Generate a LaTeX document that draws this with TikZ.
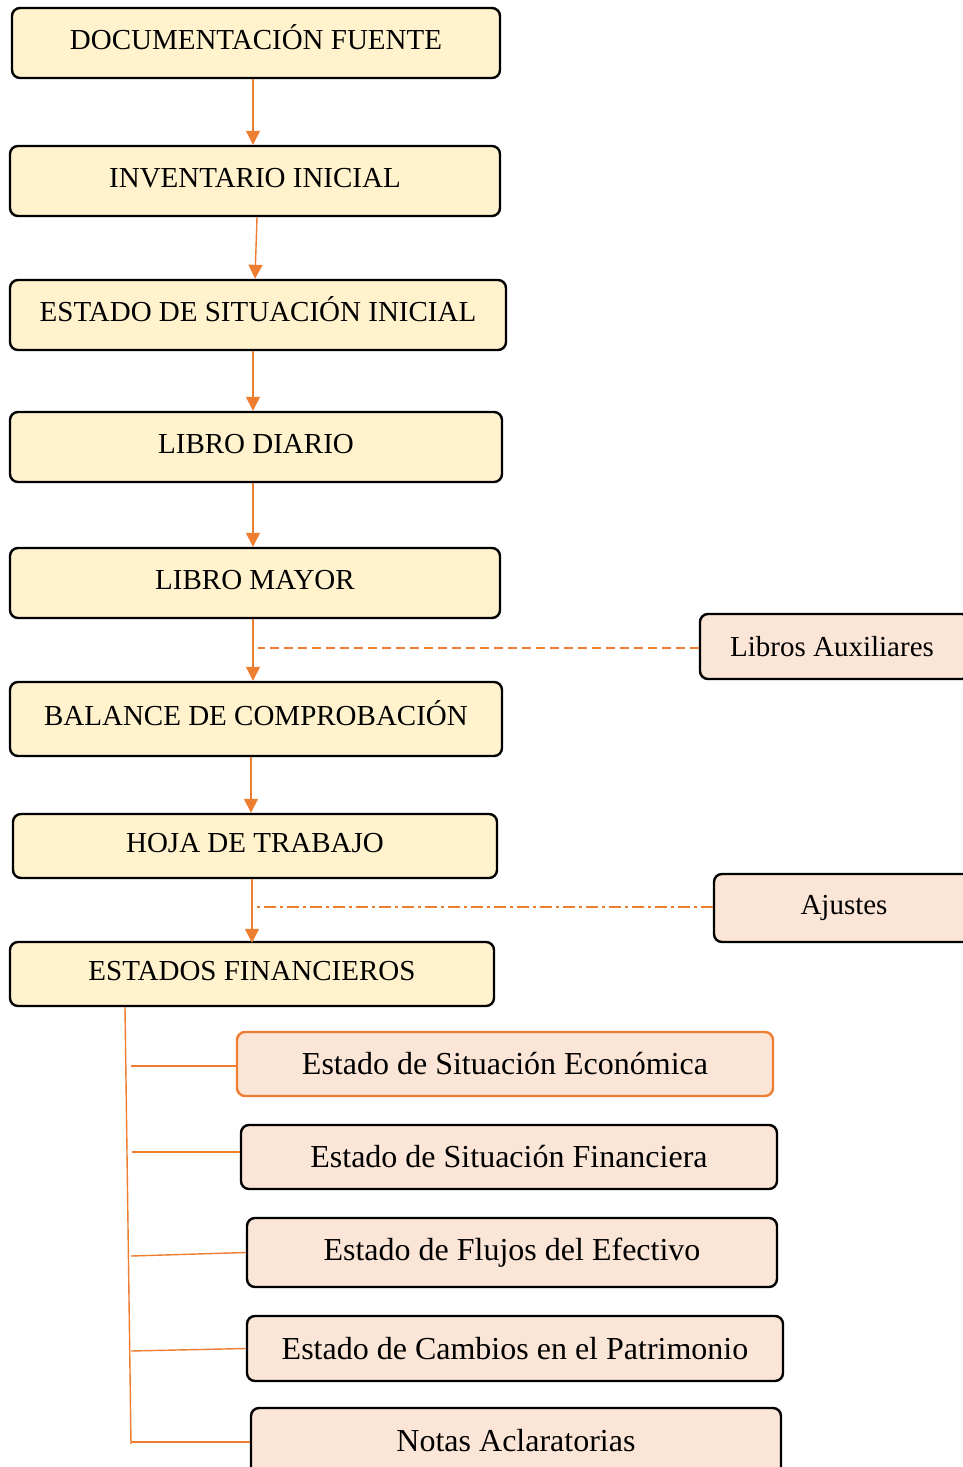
\documentclass[tikz,border=0pt]{standalone}
\usepackage{fontspec}
\setmainfont{Liberation Serif}
\usetikzlibrary{arrows.meta}
\definecolor{ylw}{HTML}{FFF2CC}
\definecolor{pch}{HTML}{FBE5D6}
\definecolor{org}{HTML}{ED7D31}
\newcommand{\mkbox}[7]{%
  \pgfmathsetmacro\bw{(#4-#2)*0.5}%
  \pgfmathsetmacro\bh{(#5-#3)*0.5}%
  \node[#6, minimum width=\bw pt, minimum height=\bh pt] (#1) at ({(#2+#4)/2},{(#3+#5)/2}) {#7};}
\begin{document}
\begin{tikzpicture}[x=0.5pt,y=-0.5pt,
  topbox/.style={draw=black, line width=1.2pt, fill=ylw, rounded corners=4pt, inner sep=0pt, text height=9.5pt, text depth=3.5pt, font=\fontsize{14.5}{16}\selectfont},
  sidebox/.style={draw=black, line width=1.2pt, fill=pch, rounded corners=4pt, inner sep=0pt, font=\fontsize{14.5}{16}\selectfont},
  subbox/.style={draw=black, line width=1.2pt, fill=pch, rounded corners=4pt, inner sep=0pt, font=\fontsize{16}{18}\selectfont},
  arr/.style={draw=org, line width=0.7pt, -{Triangle[width=7pt,length=7pt]}},
  oline/.style={draw=org, line width=0.7pt},
  dashline/.style={draw=org, line width=0.7pt, dash pattern=on 4.5pt off 2.5pt},
  dotline/.style={draw=org, line width=0.7pt, dash pattern=on 6pt off 2pt on 1.5pt off 2pt}]
\useasboundingbox (0,0) rectangle (963,1467);
\clip (0,0) rectangle (963,1467);
\mkbox{b1}{12}{8}{500}{78}{topbox}{DOCUMENTACIÓN FUENTE}
\mkbox{b2}{10}{146}{500}{216}{topbox}{INVENTARIO INICIAL}
\mkbox{b3}{10}{280}{506}{350}{topbox}{ESTADO DE SITUACIÓN INICIAL}
\mkbox{b4}{10}{412}{502}{482}{topbox}{LIBRO DIARIO}
\mkbox{b5}{10}{548}{500}{618}{topbox}{LIBRO MAYOR}
\mkbox{b6}{10}{682}{502}{756}{topbox}{BALANCE DE COMPROBACIÓN}
\mkbox{b7}{13}{814}{497}{878}{topbox}{HOJA DE TRABAJO}
\mkbox{b8}{10}{942}{494}{1006}{topbox}{ESTADOS FINANCIEROS}
\mkbox{la}{700}{614}{970}{679}{sidebox}{\hspace*{-3pt}Libros Auxiliares}
\mkbox{aj}{714}{874}{976}{942}{sidebox}{\hspace*{-1pt}Ajustes}
\mkbox{s1}{237}{1032}{773}{1096}{subbox,draw=org}{\raisebox{-1pt}{Estado de Situación Económica}}
\mkbox{s2}{241}{1125}{777}{1189}{subbox}{\raisebox{-1pt}{Estado de Situación Financiera}}
\mkbox{s3}{247}{1218}{777}{1287}{subbox}{\raisebox{-1pt}{Estado de Flujos del Efectivo}}
\mkbox{s4}{247}{1316}{783}{1381}{subbox}{\raisebox{-1pt}{Estado de Cambios en el Patrimonio}}
\mkbox{s5}{251}{1408}{781}{1478}{subbox}{\raisebox{3pt}{Notas Aclaratorias}}
% arrows
\draw[arr] (b1.south -| 253,0) -- (b2.north -| 253,0);
\draw[arr] (b2.south -| 257,0) -- (b3.north -| 255,0);
\draw[arr] (b3.south -| 253,0) -- (b4.north -| 253,0);
\draw[arr] (b4.south -| 253,0) -- (b5.north -| 253,0);
\draw[arr] (b5.south -| 253,0) -- (b6.north -| 253,0);
\draw[arr] (b6.south -| 251,0) -- (b7.north -| 251,0);
\draw[arr] (b7.south -| 252,0) -- ([yshift=-1pt]b8.north -| 252,0);
% side links
\coordinate (lx) at (258,648);
\coordinate (ax) at (256,907);
\draw[dashline] (la.west |- lx) -- (lx);
\draw[dotline] (aj.west |- ax) -- (ax);
% tree
\coordinate (tb) at (131,1444);
\draw[oline] (b8.south -| 125,0) -- (tb);
\coordinate (t1) at (131,1066);
\coordinate (t2) at (132,1152);
\coordinate (t3) at (131,1256);
\coordinate (t4) at (131,1351);
\coordinate (t5) at (131,1442);
\draw[oline] (t1) -- (s1.west |- t1);
\draw[oline] (t2) -- (s2.west |- t2);
\draw[oline] (t3) -- (s3.west);
\draw[oline] (t4) -- (s4.west);
\draw[oline] (t5) -- (s5.west |- t5);
\end{tikzpicture}
\end{document}
